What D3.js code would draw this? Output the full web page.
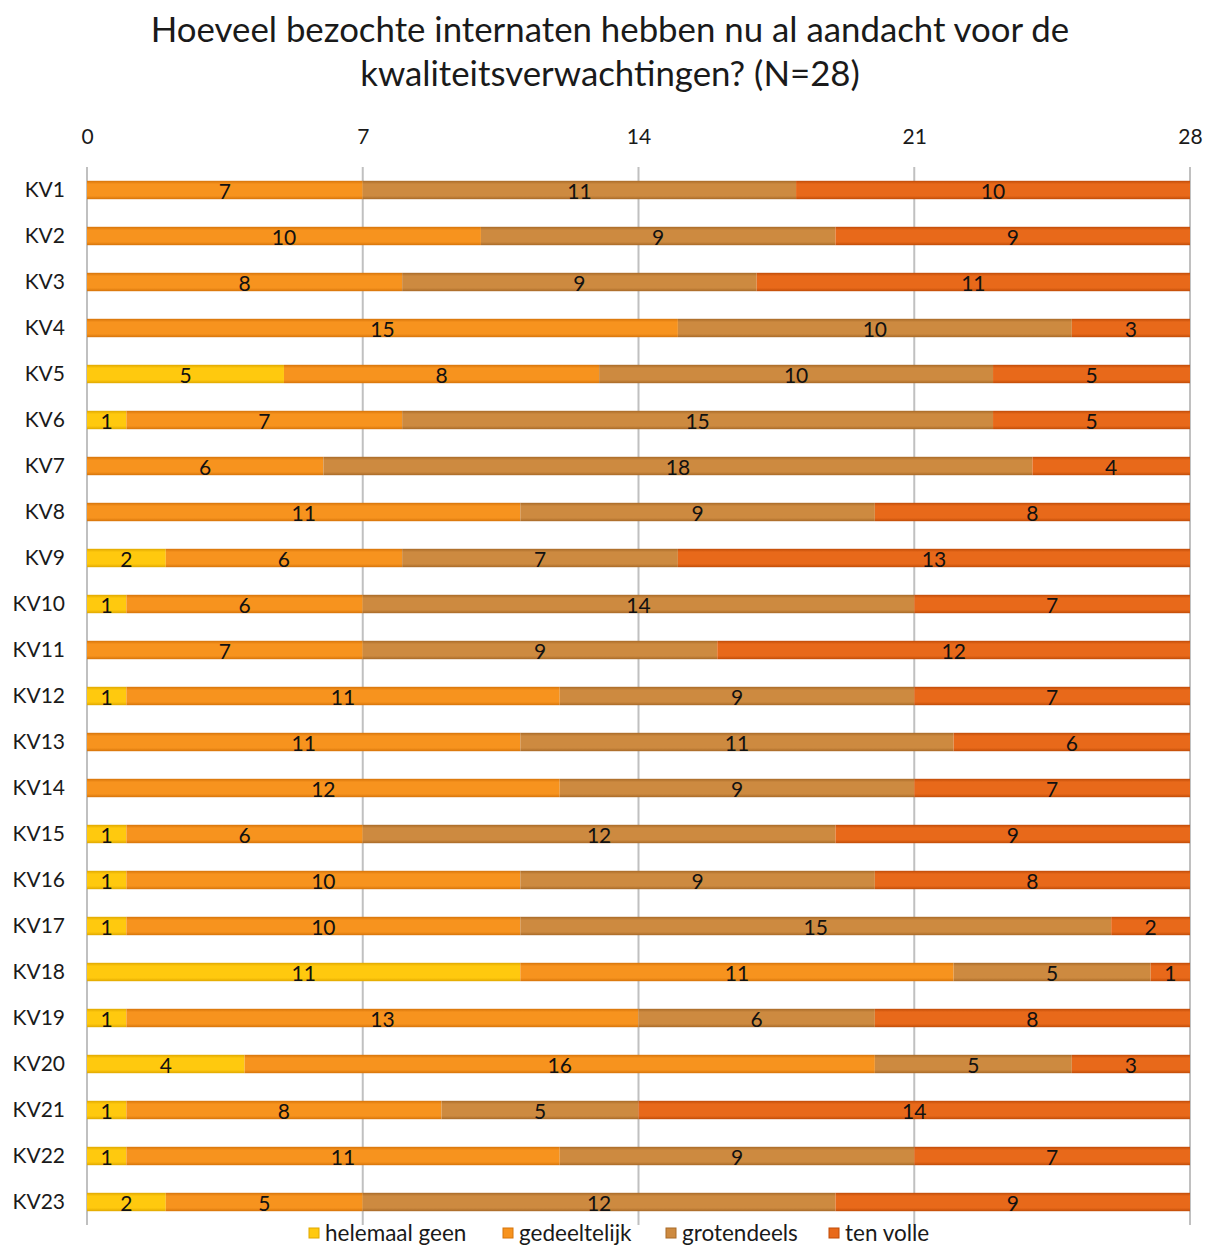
<!DOCTYPE html>
<html><head><meta charset="utf-8">
<script src="https://cdn.jsdelivr.net/npm/d3@7"></script>
<style>body{margin:0;background:#fff;} svg{display:block;}</style>
</head><body>
<svg id="chart" width="1216" height="1246"></svg>
<script>
const categories = ["KV1","KV2","KV3","KV4","KV5","KV6","KV7","KV8","KV9","KV10","KV11","KV12","KV13","KV14","KV15","KV16","KV17","KV18","KV19","KV20","KV21","KV22","KV23"];
const seriesNames = ["helemaal geen","gedeeltelijk","grotendeels","ten volle"];
const helemaalGeen = [0,0,0,0,5,1,0,0,2,1,0,1,0,0,1,1,1,11,1,4,1,1,2];
const gedeeltelijk = [7,10,8,15,8,7,6,11,6,6,7,11,11,12,6,10,10,11,13,16,8,11,5];
const grotendeels  = [11,9,9,10,10,15,18,9,7,14,9,9,11,9,12,9,15,5,6,5,5,9,12];
const tenVolle     = [10,9,11,3,5,5,4,8,13,7,12,7,6,7,9,8,2,1,8,3,14,7,9];
const tickValues = [0,7,14,21,28];
const titleLines = ["Hoeveel bezochte internaten hebben nu al aandacht voor de","kwaliteitsverwachtingen? (N=28)"];

const colors = ["#FFC90E","#F7931E","#CD8A40","#E8691A"];
const edgeColors = ["#E0A800","#D6740A","#A86A28","#C04C08"];

const svg = d3.select("#chart");
const font = "Lato, 'Open Sans', sans-serif";

const x = d3.scaleLinear().domain([0,28]).range([87,1190]);
const y = d3.scaleBand().domain(categories).range([167,1225]).paddingInner(0.6).paddingOuter(0.3);

// gradients
const defs = svg.append("defs");
colors.forEach((c,i)=>{
  const g = defs.append("linearGradient").attr("id","g"+i).attr("x1",0).attr("y1",0).attr("x2",0).attr("y2",1);
  g.append("stop").attr("offset","0%").attr("stop-color",edgeColors[i]);
  g.append("stop").attr("offset","18%").attr("stop-color",c);
  g.append("stop").attr("offset","82%").attr("stop-color",c);
  g.append("stop").attr("offset","100%").attr("stop-color",edgeColors[i]);
});

// title
svg.append("g").selectAll("text").data(titleLines).join("text")
  .attr("x",610).attr("y",(d,i)=>30+i*44)
  .attr("dy","0.35em")
  .attr("text-anchor","middle").attr("font-family",font).attr("font-size",34.8)
  .attr("fill","#1a1a1a").text(d=>d);

// gridlines
svg.append("g").selectAll("line").data(tickValues).join("line")
  .attr("x1",d=>x(d)).attr("x2",d=>x(d)).attr("y1",167).attr("y2",1225)
  .attr("stroke","#C0C0C0").attr("stroke-width",2);

// top axis
const ax = svg.append("g").attr("transform","translate(0,137)")
  .call(d3.axisTop(x).tickValues(tickValues).tickSize(0).tickPadding(0));
ax.select(".domain").remove();
ax.selectAll("text").attr("font-family",font).attr("font-size",21).attr("fill","#1a1a1a").attr("dy","0.35em");

// y axis labels
const ay = svg.append("g").attr("transform","translate(65,0)")
  .call(d3.axisLeft(y).tickSize(0).tickPadding(0));
ay.select(".domain").remove();
ay.selectAll("text").attr("font-family",font).attr("font-size",21).attr("fill","#1a1a1a").attr("dy","0.35em");

// stack
const rows = categories.map((c,i)=>({cat:c, s0:helemaalGeen[i], s1:gedeeltelijk[i], s2:grotendeels[i], s3:tenVolle[i]}));
const stack = d3.stack().keys(["s0","s1","s2","s3"])(rows);

const bh = y.bandwidth();
stack.forEach((layer,li)=>{
  const g = svg.append("g");
  const segs = layer.filter(d=>d[1]-d[0]>0);
  g.selectAll("rect").data(segs).join("rect")
    .attr("x",d=>x(d[0])).attr("width",d=>x(d[1])-x(d[0]))
    .attr("y",d=>y(d.data.cat)).attr("height",bh)
    .attr("fill",`url(#g${li})`);
});
stack.forEach((layer,li)=>{
  const segs = layer.filter(d=>d[1]-d[0]>0);
  svg.append("g").selectAll("text").data(segs).join("text")
    .attr("x",d=>(x(d[0])+x(d[1]))/2).attr("y",d=>y(d.data.cat)+bh/2+2)
    .attr("dy","0.35em").attr("text-anchor","middle")
    .attr("font-family",font).attr("font-size",21).attr("fill","#111")
    .text(d=>d[1]-d[0]);
});

// legend
const legX = [309,503,666,829];
const leg = svg.append("g");
seriesNames.forEach((n,i)=>{
  leg.append("rect").attr("x",legX[i]).attr("y",1228).attr("width",10).attr("height",10)
    .attr("fill",colors[i]).attr("stroke",edgeColors[i]).attr("stroke-width",1);
  leg.append("text").attr("x",legX[i]+16).attr("y",1233).attr("dy","0.35em")
    .attr("font-family",font).attr("font-size",22.5).attr("fill","#1a1a1a").text(n);
});
</script>
</body></html>
